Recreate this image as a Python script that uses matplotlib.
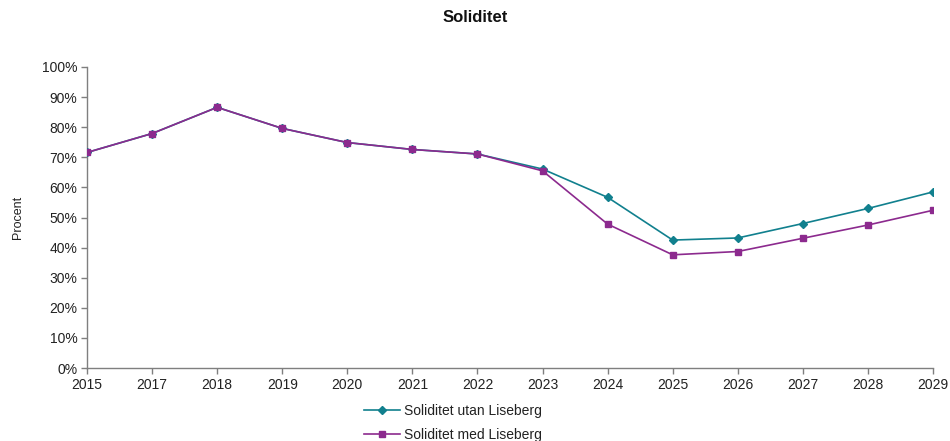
import matplotlib
matplotlib.use("Agg")
import matplotlib.pyplot as plt
from matplotlib.ticker import PercentFormatter

plt.rcParams['font.family'] = ['Liberation Sans', 'DejaVu Sans']

years = ["2015", "2017", "2018", "2019", "2020", "2021", "2022",
         "2023", "2024", "2025", "2026", "2027", "2028", "2029"]
utan = [71.6, 77.9, 86.6, 79.6, 74.9, 72.6, 71.1,
        66.1, 56.7, 42.5, 43.2, 48.0, 53.0, 58.5]
med = [71.6, 77.9, 86.6, 79.6, 74.9, 72.6, 71.1,
       65.5, 47.8, 37.6, 38.7, 43.1, 47.5, 52.4]
labels = ["Soliditet utan Liseberg", "Soliditet med Liseberg"]

teal = "#11808e"
purple = "#8c2a8e"
text_c = "#222222"
spine_c = "#7f7f7f"

fig = plt.figure(figsize=(9.5, 4.41), dpi=100)
ax = fig.add_axes([87/950, 1-368/441, (933-87)/950, (368-67)/441])

x = list(range(len(years)))
ax.plot(x, utan, color=teal, lw=1.2, marker="D", ms=4.2, mec=teal, mfc=teal, label=labels[0], zorder=3)
ax.plot(x, med, color=purple, lw=1.2, marker="s", ms=5, mec=purple, mfc=purple, label=labels[1], zorder=4)

ax.set_xlim(0, len(years)-1)
ax.set_ylim(0, 100)
ax.set_yticks(range(0, 101, 10))
ax.yaxis.set_major_formatter(PercentFormatter(decimals=0))
ax.set_xticks(x)
ax.set_xticklabels(years)

for s in ["top", "right"]:
    ax.spines[s].set_visible(False)
for s in ["left", "bottom"]:
    ax.spines[s].set_color(spine_c)
    ax.spines[s].set_linewidth(1.0)
ax.tick_params(axis="both", direction="out", length=4, width=1.0, color=spine_c,
               labelsize=10, labelcolor=text_c, pad=3)
ax.set_ylabel("Procent", fontsize=9, color=text_c)
ax.yaxis.set_label_coords(-0.075, 0.5)

fig.text(0.5, 1-18/441, "Soliditet", ha="center", va="center", fontsize=12,
         fontweight="bold", color="#111111")

leg = fig.legend(loc="upper left", bbox_to_anchor=(364/950, 1-404/441), frameon=False,
                 fontsize=10, handlelength=2.6, handletextpad=0.3, labelspacing=0.72,
                 borderpad=0, borderaxespad=0)
for t in leg.get_texts():
    t.set_color(text_c)

fig.savefig("out.png", dpi=100)
